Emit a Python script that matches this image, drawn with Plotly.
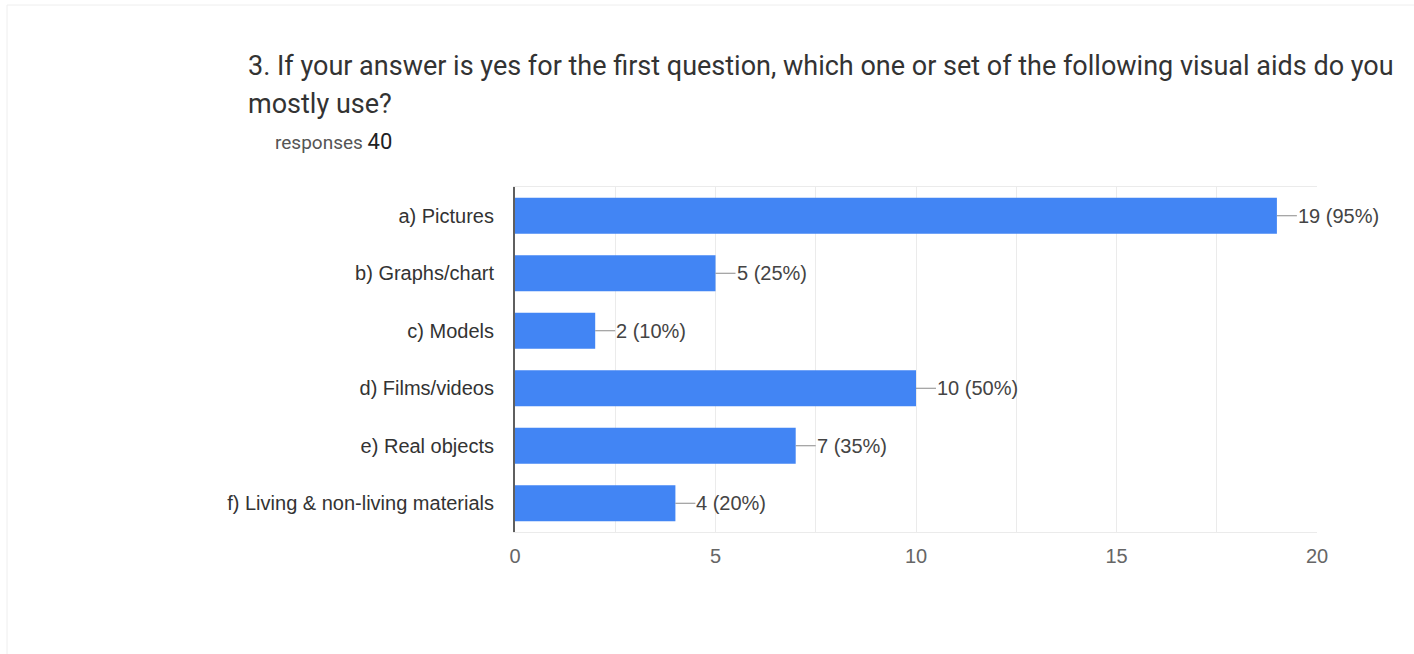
import plotly.graph_objects as go

# Survey answers (count of respondents per visual aid)
categories = [
    "a) Pictures",
    "b) Graphs/chart",
    "c) Models",
    "d) Films/videos",
    "e) Real objects",
    "f) Living & non-living materials",
]
counts = [19, 5, 2, 10, 7, 4]
answered = 20          # base used for the percentage labels
responses = 40
x_ticks = [0, 5, 10, 15, 20]

title_line1 = "3. If your answer is yes for the first question, which one or set of the following visual aids do you"
title_line2 = "mostly use?"

W, H = 1414, 654
L, R, T, B = 515, 1317, 187, 532   # plot area in pixels

bar_color = "#4285f4"
text_color = "#444444"
label_font = "Liberation Sans, Arial"

fig = go.Figure(
    go.Bar(
        y=categories,
        x=counts,
        orientation="h",
        marker=dict(color=bar_color, line=dict(width=0)),
        hoverinfo="skip",
    )
)

# value labels with short leader lines
for cat, v in zip(categories, counts):
    fig.add_annotation(
        x=v, y=cat, xref="x", yref="y",
        text=f"{v} ({v / answered * 100:.0f}%)",
        showarrow=True, arrowhead=0, arrowwidth=1, arrowcolor="#8a8a8a",
        ax=20, ay=0, xanchor="left", yanchor="middle",
        standoff=0, borderpad=0,
        font=dict(family=label_font, size=20, color=text_color),
    )


def px_x(p):
    return (p - L) / (R - L)


def px_y(p):
    return (B - p) / (B - T)


fig.add_annotation(
    x=px_x(246), y=px_y(66), xref="paper", yref="paper",
    text=title_line1, showarrow=False, xanchor="left", yanchor="middle",
    font=dict(family="Roboto", size=27, color="#333333"),
)
fig.add_annotation(
    x=px_x(246), y=px_y(104), xref="paper", yref="paper",
    text=title_line2, showarrow=False, xanchor="left", yanchor="middle",
    font=dict(family="Roboto", size=27, color="#333333"),
)
fig.add_annotation(
    x=px_x(273), y=px_y(141), xref="paper", yref="paper",
    text=f"<span style='font-size:19px;color:#555555'>responses</span> "
         f"<span style='font-size:22px;color:#202124'>{responses}</span>",
    showarrow=False, xanchor="left", yanchor="middle",
    font=dict(family="Roboto", size=19, color="#555555"),
)

# faint card outline
fig.add_shape(
    type="rect", xref="paper", yref="paper",
    x0=px_x(7), x1=px_x(1420), y0=px_y(5), y1=px_y(700),
    line=dict(color="#eeeeee", width=1), fillcolor="rgba(0,0,0,0)", layer="below",
)

fig.update_layout(
    width=W, height=H,
    margin=dict(l=L, r=W - R, t=T, b=H - B, pad=0),
    paper_bgcolor="white", plot_bgcolor="white",
    bargap=0.37,
    showlegend=False,
    font=dict(family=label_font, size=20, color=text_color),
    xaxis=dict(
        range=[0, 20], tickvals=x_ticks, ticktext=[str(t) for t in x_ticks],
        showgrid=True, gridcolor="#ebebeb", gridwidth=1,
        minor=dict(dtick=2.5, tick0=0, showgrid=True, gridcolor="#ebebeb", gridwidth=1),
        zeroline=False, showline=True, mirror=True, linecolor="#ebebeb", linewidth=1,
        ticks="", ticklabelstandoff=6,
        tickfont=dict(family=label_font, size=20, color="#666666"),
        fixedrange=True,
    ),
    yaxis=dict(
        categoryorder="array", categoryarray=categories, autorange="reversed",
        showgrid=False, zeroline=False,
        showline=True, linecolor="#5f5f5f", linewidth=2,
        ticks="", ticklabelstandoff=15,
        tickfont=dict(family=label_font, size=20, color="#333333"),
        fixedrange=True,
    ),
)

fig.write_html("out.html", config={"displayModeBar": False})
